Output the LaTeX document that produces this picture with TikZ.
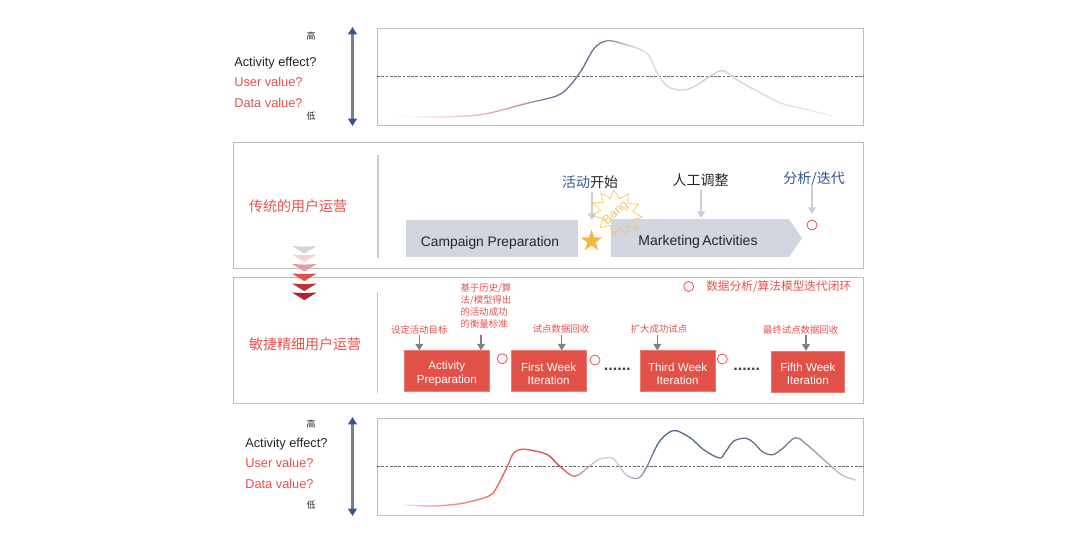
\documentclass[tikz,border=0pt]{standalone}
\usepackage{fontspec}
\setmainfont{Liberation Sans}
\newfontfamily\cjk{Noto Sans CJK SC}
\usetikzlibrary{arrows.meta,shapes.geometric}
\newcommand\fs[2][1.2]{\fontsize{\fpeval{#2*0.75}}{\fpeval{#2*0.75*#1}}\selectfont}
\newcommand\tl{\rule{0pt}{10.1pt}}
\definecolor{redtxt}{HTML}{E8524C}
\definecolor{redbox}{HTML}{E25148}
\definecolor{blutxt}{HTML}{2F5597}
\definecolor{paneledge}{HTML}{BDBDBD}
\definecolor{panelgray}{HTML}{D3D6DE}
\definecolor{pale}{HTML}{C9CEDA}
\definecolor{gold}{HTML}{F5B83A}
\definecolor{burst}{HTML}{F6C558}
\definecolor{axisgray}{HTML}{7A7E88}
\definecolor{axisblue}{HTML}{34558F}
\definecolor{txtdark}{HTML}{262626}
\definecolor{curvedark}{HTML}{6B7591}
\definecolor{midpink}{HTML}{D99CAB}
\tikzset{
  panel/.style={draw=paneledge,line width=.7pt,inner sep=0pt,fill=none},
  redstep/.style={fill=redbox,draw=redbox!75!white,line width=.4pt,inner sep=0pt,minimum width=#1,minimum height=30.75pt,text=white,align=center,font={\fs[1.17]{11.6}}},
  graystep/.style={fill=panelgray,inner sep=0pt},
  divider/.style={draw=black!20,line width=.9pt},
  axisline/.style={draw=axisgray,line width=1.7pt,{Triangle[color=axisblue,length=5.5pt,width=6.5pt]}-{Triangle[color=axisblue,length=5.5pt,width=6.5pt]}},
  grayarrow/.style={draw=pale,line width=.8pt,-{Triangle[length=5pt,width=6pt]}},
  darkarrow/.style={draw=black!50,line width=.8pt,-{Triangle[length=5pt,width=6pt]}},
  dashline/.style={draw=black!60,line width=.45pt,dash pattern=on 2pt off 1.2pt},
  ring/.style={circle,draw=redtxt,line width=.6pt,minimum size=7.5pt,inner sep=0pt},
  zhred/.style={text=redtxt,inner sep=0pt,font=\cjk\fs{9.4}},
  zhblock/.style={text=redtxt,inner sep=0pt,align=left,font={\cjk\fs[1.26]{9.4}}},
  zhbig/.style={inner sep=0pt,font=\cjk\fs{14}},
  tick/.style={inner sep=0pt,text=txtdark,font=\cjk\fs{9}},
  lefttxt/.style={anchor=west,inner sep=0pt,font=\fs{12.8}},
  dotrow/.style={inner sep=0pt,text=black!75,font=\bfseries\fs{16}},
}
% gradient stroke: curve #5 stroked from x=#1 to x=#2, colour #3 to #4
\newcommand\gradseg[5]{%
  \pgfmathsetmacro\gradn{int(max(1,(#2-#1)/3))}%
  \foreach \gi in {1,...,\gradn}{%
    \pgfmathsetmacro\gpct{100*(\gi-.5)/\gradn}%
    \pgfmathsetmacro\gxa{#1+(#2-#1)*(\gi-1)/\gradn-.25}%
    \pgfmathsetmacro\gxb{#1+(#2-#1)*\gi/\gradn+.25}%
    \begin{scope}
      \clip (\gxa,0) rectangle (\gxb,557);
      \colorlet{gradc}{#4!\gpct!#3}%
      \draw[gradc,line width=.95pt,line cap=round,line join=round] plot[smooth,tension=.55] coordinates {#5};
    \end{scope}}}
\newcommand\curveA{(396.4,115.7)(421.7,117)(451,116.7)(484.8,114)(526.9,103.3)(556.3,96)(569,86.7)(581.6,70)(594.2,48.3)(607,40.8)(623.7,44)(646.8,53.3)(657.3,73.3)(667.9,86.7)(682.6,90)(695.2,86)(712,75)(723.4,70.7)(737.3,80)(758.3,91.7)(781.5,103.3)(808.8,110)(831.9,116)}
\newcommand\curveB{(405.2,505)(433.8,506)(462.4,503.3)(488.9,496)(497,486.7)(507.2,466.7)(513.4,453.3)(521.5,449.3)(533.7,450.7)(548,455)(560.3,466.7)(574.6,476.3)(588.9,466.7)(599.1,459.3)(611.4,457.7)(617.4,463.3)(626.4,475)(637.9,478.3)(646,468.3)(658.2,443.3)(668.5,432.7)(676.6,430.7)(690.9,438.3)(703.1,449.3)(719.4,458)(725.6,451.7)(733.8,441)(746,438.3)(754.2,443.3)(762.4,451.7)(772.6,454.7)(782.8,448.3)(795.1,437.7)(805.3,443.3)(829.8,465)(842,475)(855.5,480)}
\newcommand\chev[2]{\fill[#2] (292,#1) -- (304.3,#1+.6) -- (316.7,#1) -- (304.3,#1+7.6) -- cycle;}
\colorlet{palepink}{pink!35!white}
\colorlet{pale2}{pale!75!white}
\colorlet{pale3}{pale!35!white}
\colorlet{blueA}{axisblue!45!curvedark}
\colorlet{pinkB}{pink!70!redtxt}
\colorlet{redB}{redtxt!85!pink}
\colorlet{redC}{redbox!92!black}
\colorlet{mixB}{pale!70!pink}
\colorlet{pinkLight}{pink!40!white}
\definecolor{chevB}{HTML}{F0D5DA}
\definecolor{chevC}{HTML}{E39AA6}
\definecolor{chevE}{HTML}{BE303A}
\definecolor{chevF}{HTML}{AB2433}
\begin{document}
\begin{tikzpicture}[x=.75pt,y=-.75pt]
\useasboundingbox (0,0) rectangle (1080,557);
\fill[white] (0,0) rectangle (1080,557);

% ---------- upper plot
\node[panel,minimum width=364.5pt,minimum height=72.75pt] (plotA) at (620.5,76.5) {};
\coordinate (dashAl) at (plotA.west |- 0,76);
\coordinate (dashAr) at (plotA.east |- 0,76);
\draw[dashline] (dashAl) -- (dashAr);
\gradseg{396}{420}{white}{palepink}{\curveA}
\gradseg{420}{510}{palepink}{midpink}{\curveA}
\gradseg{510}{560}{midpink}{curvedark}{\curveA}
\gradseg{560}{600}{curvedark}{curvedark}{\curveA}
\gradseg{600}{640}{curvedark}{pale2}{\curveA}
\gradseg{640}{720}{pale2}{pale}{\curveA}
\gradseg{720}{832}{pale}{pale3}{\curveA}
\node[tick] (hiA) at (311,36) {高};
\node[tick] (loA) at (311,116) {低};
\node[lefttxt,text=txtdark] (effA) at (234,63) {Activity effect?};
\node[lefttxt,text=redtxt] (usrA) at (234,81.5) {User value?};
\node[lefttxt,text=redtxt] (datA) at (234,102.5) {Data value?};
\coordinate (axAt) at (352.5,27);
\coordinate (axAb) at (352.5,126);
\draw[axisline] (axAt) -- (axAb);

% ---------- traditional panel
\node[panel,minimum width=472.5pt,minimum height=94.5pt] (panelT) at (548.5,205) {};
\coordinate (divTa) at (378,155);
\coordinate (divTb) at (378,258);
\draw[divider] (divTa) -- (divTb);
\node[zhbig,text=redtxt] (titleT) at (298,206.5) {传统的用户运营};
\node[graystep,minimum width=128.8pt,minimum height=28pt] (camp) at (491.85,238.65) {};
\node[inner sep=0pt,text=txtdark,font=\fs{13.8}] (campText) at (490,243) {Campaign Preparation};
\fill[panelgray] (611,219) -- (789,219) -- (802,238) -- (789,257) -- (611,257) -- cycle;
\node[inner sep=0pt,text=txtdark,font=\fs{14}] (mkt) at (698,242) {Marketing\,Activities};
\node[zhbig] (start) at (590,182) {\textcolor{blutxt}{活动}\textcolor{txtdark}{开始}};
\node[zhbig,text=txtdark] (adjust) at (700.5,180) {人工调整};
\node[zhbig,text=blutxt] (iter) at (814,178.5) {分析/迭代};
\coordinate (startA) at (592,192);
\coordinate (startB) at (592,220);
\coordinate (adjA) at (701,190);
\coordinate (adjB) at (701,218);
\coordinate (iterA) at (812,186);
\coordinate (iterB) at (812,214);
\draw[grayarrow] (startA) -- (startB);
\draw[grayarrow] (adjA) -- (adjB);
\draw[grayarrow] (iterA) -- (iterB);
\node[ring] (ringT) at (812,225) {};
\node[star,star points=5,star point ratio=2.6,fill=gold,minimum size=17pt,inner sep=0pt] (starN) at (591.5,241) {};
\node[star,star points=11,star point ratio=1.55,draw=burst,line width=.5pt,minimum size=33pt,inner sep=0pt,rotate=-30,xscale=1.2,transform shape] (burstN) at (617,213) {};
\node[rotate=42,inner sep=0pt,text=burst,font=\fs{12.5}] (bang) at (616,213) {Bang};

% ---------- agile panel
\node[panel,minimum width=472.5pt,minimum height=94.9pt] (panelA) at (548.5,340.25) {};
\coordinate (divAa) at (377.7,292);
\coordinate (divAb) at (377.7,394);
\draw[divider] (divAa) -- (divAb);
\node[zhbig,text=redtxt] (titleA) at (305,344.5) {敏捷精细用户运营};
\node[ring] (ringL) at (688.7,286.5) {};
\node[inner sep=0pt,anchor=west,text=redtxt,font=\cjk\fs{11.7}] (legend) at (706,287) {数据分析/算法模型迭代闭环};

% ---------- chevrons
\chev{246}{panelgray}
\chev{254.5}{chevB}
\chev{264}{chevC}
\chev{273.5}{redbox}
\chev{283.5}{chevE}
\chev{292.5}{chevF}

\node[redstep=63.75pt] (act) at (446.8,371.2) {\tl Activity\\Preparation};
\node[redstep=56.5pt] (wk1) at (548.65,371.2) {\tl First Week\\Iteration};
\node[redstep=56.5pt] (wk3) at (677.65,371.2) {\tl Third Week\\Iteration};
\node[redstep=55.3pt] (wk5) at (807.85,371.5) {\tl Fifth Week\\Iteration};

\node[zhred] (l1) at (419.3,329.5) {设定活动目标};
\node[zhblock] (l2) at (486,306) {基于历史/算\\法/模型得出\\的活动成功\\的衡量标准};
\node[zhred] (l3) at (561,328.5) {试点数据回收};
\node[zhred] (l4) at (659,328.5) {扩大成功试点};
\node[zhred] (l5) at (800.7,330) {最终试点数据回收};

\coordinate (a1) at (419.3,335);
\coordinate (a2) at (481,335);
\coordinate (a3) at (561.7,335);
\coordinate (a4) at (657.3,335);
\coordinate (a5) at (806,335);
\draw[darkarrow] (a1) -- (a1 |- act.north);
\draw[darkarrow] (a2) -- (a2 |- act.north);
\draw[darkarrow] (a3) -- (a3 |- wk1.north);
\draw[darkarrow] (a4) -- (a4 |- wk3.north);
\draw[darkarrow] (a5) -- (a5 |- wk5.north);

\node[ring] (r1) at (502.3,358.7) {};
\node[ring] (r2) at (595,360) {};
\node[ring] (r3) at (722.3,359) {};
\node[dotrow] (dots1) at (617.3,369.5) {......};
\node[dotrow] (dots2) at (746.7,369.5) {......};

% ---------- lower plot
\node[panel,minimum width=364.5pt,minimum height=73.3pt] (plotB) at (620.5,466.85) {};
\coordinate (dashBl) at (plotB.west |- 0,466.7);
\coordinate (dashBr) at (plotB.east |- 0,466.7);
\draw[dashline] (dashBl) -- (dashBr);
\gradseg{405}{430}{pinkLight}{pinkB}{\curveB}
\gradseg{430}{500}{pinkB}{redB}{\curveB}
\gradseg{500}{560}{redB}{redC}{\curveB}
\gradseg{560}{600}{redC}{mixB}{\curveB}
\gradseg{600}{622}{mixB}{pale}{\curveB}
\gradseg{622}{660}{pale}{blueA}{\curveB}
\gradseg{660}{780}{blueA}{curvedark}{\curveB}
\gradseg{780}{856}{curvedark}{pale}{\curveB}
\node[tick] (hiB) at (311,424.5) {高};
\node[tick] (loB) at (311,505.5) {低};
\node[lefttxt,text=txtdark] (effB) at (245,444.5) {Activity effect?};
\node[lefttxt,text=redtxt] (usrB) at (245,462.5) {User value?};
\node[lefttxt,text=redtxt] (datB) at (245,483.5) {Data value?};
\coordinate (axBt) at (352.5,417);
\coordinate (axBb) at (352.5,516);
\draw[axisline] (axBt) -- (axBb);
\end{tikzpicture}
\end{document}
